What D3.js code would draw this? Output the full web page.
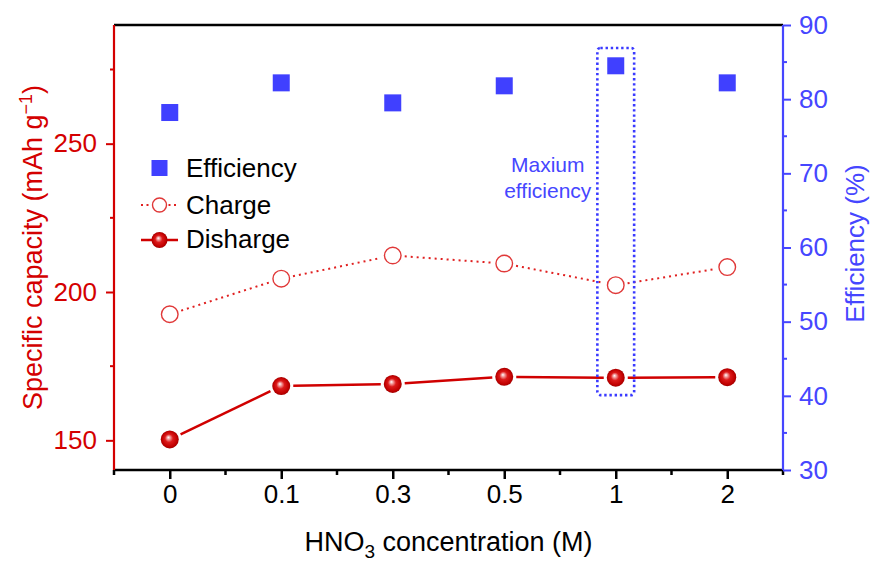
<!DOCTYPE html>
<html>
<head>
<meta charset="utf-8">
<script src="https://cdn.jsdelivr.net/npm/d3@7/dist/d3.min.js"></script>
<style>
  html, body { margin: 0; padding: 0; background: #fff; }
  svg { display: block; font-family: "Liberation Sans", Arial, sans-serif; }
</style>
</head>
<body>
<svg id="chart" width="874" height="561"></svg>
<script>
// HNO3 concentration categories (M)
const categories = ["0", "0.1", "0.3", "0.5", "1", "2"];
// Specific capacity, mAh g^-1
const chargeCapacity = [192.5, 204.5, 212.3, 209.6, 202.3, 208.4];
const dischargeCapacity = [150.3, 168.3, 169.0, 171.4, 171.1, 171.3];
// Coulombic efficiency, %
const efficiency = [78.2, 82.2, 79.5, 81.8, 84.5, 82.2];
// Axis ticks
const capacityTicks = [150, 200, 250];
const capacityMinor = [175, 225, 275];
const effTicks = [30, 40, 50, 60, 70, 80, 90];
const effMinor = [35, 45, 55, 65, 75, 85];
// Highlighted sample (maximum efficiency)
const highlightIndex = 4;
const highlightEffRange = [40.1, 86.9];

const RED = "#d40000";
const BLUE = "#4646ff";
const FONT = 26;
const TITLE_FONT = 27;

const svg = d3.select("#chart");
const m = { left: 114, right: 783, top: 25, bottom: 470 };

const x = d3.scaleLinear().domain([-0.5, categories.length - 0.5]).range([m.left, m.right]);
const yCap = d3.scaleLinear().domain([140, 290]).range([m.bottom, m.top]);
const yEff = d3.scaleLinear().domain([30, 90]).range([m.bottom, m.top]);

// sphere gradient for discharge markers
const defs = svg.append("defs");
const grad = defs.append("radialGradient").attr("id", "sphere")
  .attr("cx", "0.5").attr("cy", "0.5").attr("r", "0.5")
  .attr("fx", "0.42").attr("fy", "0.38");
grad.append("stop").attr("offset", "0").attr("stop-color", "#ffffff");
grad.append("stop").attr("offset", "0.18").attr("stop-color", "#f3a0a0");
grad.append("stop").attr("offset", "0.45").attr("stop-color", "#dc1a1a");
grad.append("stop").attr("offset", "0.85").attr("stop-color", "#c00000");
grad.append("stop").attr("offset", "1").attr("stop-color", "#a00000");

// ---- axes ----
// bottom (categorical index axis)
const xAxis = d3.axisBottom(x)
  .tickValues(d3.range(categories.length))
  .tickFormat(i => categories[i])
  .tickSize(9).tickPadding(6);
const gx = svg.append("g").attr("transform", `translate(0,${m.bottom})`).call(xAxis);
gx.select(".domain").remove();
gx.selectAll(".tick line").attr("stroke", "#000").attr("stroke-width", 2.5);
gx.selectAll(".tick text").attr("font-size", FONT).attr("fill", "#000").attr("dy", "0.71em")
  .attr("font-family", "Liberation Sans, Arial, sans-serif");
svg.append("g").selectAll("line")
  .data(d3.range(-0.5, categories.length, 1))
  .join("line")
  .attr("x1", d => x(d)).attr("x2", d => x(d))
  .attr("y1", m.bottom).attr("y2", m.bottom + 5)
  .attr("stroke", "#000").attr("stroke-width", 2.5);

// left capacity axis
const yAxisL = d3.axisLeft(yCap).tickValues(capacityTicks).tickSize(8).tickPadding(9);
const gl = svg.append("g").attr("transform", `translate(${m.left},0)`).call(yAxisL);
gl.select(".domain").remove();
gl.selectAll(".tick line").attr("stroke", RED).attr("stroke-width", 2);
gl.selectAll(".tick text").attr("font-size", FONT).attr("fill", RED)
  .attr("font-family", "Liberation Sans, Arial, sans-serif");
svg.append("g").selectAll("line").data(capacityMinor).join("line")
  .attr("x1", m.left - 4).attr("x2", m.left)
  .attr("y1", d => yCap(d)).attr("y2", d => yCap(d))
  .attr("stroke", RED).attr("stroke-width", 2);

// right efficiency axis
const yAxisR = d3.axisRight(yEff).tickValues(effTicks).tickSize(8).tickPadding(8);
const gr = svg.append("g").attr("transform", `translate(${m.right},0)`).call(yAxisR);
gr.select(".domain").remove();
gr.selectAll(".tick line").attr("stroke", BLUE).attr("stroke-width", 2);
gr.selectAll(".tick text").attr("font-size", FONT).attr("fill", BLUE)
  .attr("font-family", "Liberation Sans, Arial, sans-serif");
svg.append("g").selectAll("line").data(effMinor).join("line")
  .attr("x1", m.right).attr("x2", m.right + 4)
  .attr("y1", d => yEff(d)).attr("y2", d => yEff(d))
  .attr("stroke", BLUE).attr("stroke-width", 2);

// frame
svg.append("line").attr("x1", m.left).attr("x2", m.right).attr("y1", m.top).attr("y2", m.top)
  .attr("stroke", "#000").attr("stroke-width", 2.5);
svg.append("line").attr("x1", m.left).attr("x2", m.right).attr("y1", m.bottom).attr("y2", m.bottom)
  .attr("stroke", "#000").attr("stroke-width", 2.5);
svg.append("line").attr("x1", m.left).attr("x2", m.left).attr("y1", m.top).attr("y2", m.bottom)
  .attr("stroke", RED).attr("stroke-width", 2.2);
svg.append("line").attr("x1", m.right).attr("x2", m.right).attr("y1", m.top).attr("y2", m.bottom)
  .attr("stroke", BLUE).attr("stroke-width", 2.2);

// axis titles
svg.append("text")
  .attr("transform", `translate(42,${(m.top + m.bottom) / 2}) rotate(-90)`)
  .attr("text-anchor", "middle").attr("font-size", TITLE_FONT).attr("fill", RED)
  .html('Specific capacity (mAh g<tspan dy="-10" font-size="18">\u22121</tspan><tspan dy="10">)</tspan>');
svg.append("text")
  .attr("transform", `translate(864,${(m.top + m.bottom) / 2 - 4}) rotate(-90)`)
  .attr("text-anchor", "middle").attr("font-size", FONT).attr("fill", BLUE)
  .text("Efficiency (%)");
svg.append("text")
  .attr("x", (m.left + m.right) / 2).attr("y", 551)
  .attr("text-anchor", "middle").attr("font-size", TITLE_FONT).attr("fill", "#000")
  .html('HNO<tspan dy="7" font-size="19">3</tspan><tspan dy="-7"> concentration (M)</tspan>');

// ---- series ----
// line segments that stop short of each marker
function gappedSegments(values, scale, gap) {
  const segs = [];
  for (let i = 0; i < values.length - 1; i++) {
    const x1 = x(i), y1 = scale(values[i]), x2 = x(i + 1), y2 = scale(values[i + 1]);
    const len = Math.hypot(x2 - x1, y2 - y1);
    const ux = (x2 - x1) / len, uy = (y2 - y1) / len;
    segs.push([x1 + ux * gap, y1 + uy * gap, x2 - ux * gap, y2 - uy * gap]);
  }
  return segs;
}

// charge: dotted line, open circles
svg.append("g").selectAll("line").data(gappedSegments(chargeCapacity, yCap, 12)).join("line")
  .attr("x1", d => d[0]).attr("y1", d => d[1]).attr("x2", d => d[2]).attr("y2", d => d[3])
  .attr("stroke", "#e02020").attr("stroke-width", 2).attr("stroke-dasharray", "2,4");
svg.append("g").selectAll("circle").data(chargeCapacity).join("circle")
  .attr("cx", (d, i) => x(i)).attr("cy", d => yCap(d)).attr("r", 8.3)
  .attr("fill", "#fff").attr("stroke", "#e03838").attr("stroke-width", 1.4);

// discharge: solid line, shaded spheres
svg.append("g").selectAll("line").data(gappedSegments(dischargeCapacity, yCap, 12)).join("line")
  .attr("x1", d => d[0]).attr("y1", d => d[1]).attr("x2", d => d[2]).attr("y2", d => d[3])
  .attr("stroke", "#d00000").attr("stroke-width", 2.5);
svg.append("g").selectAll("circle").data(dischargeCapacity).join("circle")
  .attr("cx", (d, i) => x(i)).attr("cy", d => yCap(d)).attr("r", 9)
  .attr("fill", "url(#sphere)");

// efficiency squares
const SQ = 17;
svg.append("g").selectAll("rect").data(efficiency).join("rect")
  .attr("x", (d, i) => x(i) - SQ / 2).attr("y", d => yEff(d) - SQ / 2)
  .attr("width", SQ).attr("height", SQ).attr("fill", "#4040ff");

// highlight box around the maximum-efficiency sample
svg.append("rect")
  .attr("x", x(highlightIndex - 0.165)).attr("y", yEff(highlightEffRange[1]))
  .attr("width", x(highlightIndex + 0.165) - x(highlightIndex - 0.165))
  .attr("height", yEff(highlightEffRange[0]) - yEff(highlightEffRange[1]))
  .attr("rx", 3).attr("fill", "none")
  .attr("stroke", "#3a3aff").attr("stroke-width", 2.6).attr("stroke-dasharray", "2.4,2.8");
const note = svg.append("text").attr("text-anchor", "middle").attr("font-size", 21).attr("fill", BLUE);
note.append("tspan").attr("x", x(highlightIndex) - 68).attr("y", 172).text("Maxium");
note.append("tspan").attr("x", x(highlightIndex) - 68).attr("y", 198).text("efficiency");

// ---- legend ----
const lg = svg.append("g");
const lx = 159.5, tx = 186;
lg.append("rect").attr("x", lx - 8).attr("y", 160).attr("width", 16).attr("height", 16).attr("fill", "#4040ff");
lg.append("text").attr("x", tx).attr("y", 177).attr("font-size", FONT).text("Efficiency");

lg.append("line").attr("x1", 141).attr("x2", 178).attr("y1", 205).attr("y2", 205)
  .attr("stroke", "#e02020").attr("stroke-width", 2).attr("stroke-dasharray", "2,3.5");
lg.append("circle").attr("cx", lx).attr("cy", 205).attr("r", 7).attr("fill", "#fff")
  .attr("stroke", "#e03838").attr("stroke-width", 1.4);
lg.append("text").attr("x", tx).attr("y", 214).attr("font-size", FONT).text("Charge");

lg.append("line").attr("x1", 141).attr("x2", 178).attr("y1", 240).attr("y2", 240)
  .attr("stroke", "#d00000").attr("stroke-width", 2.5);
lg.append("circle").attr("cx", lx).attr("cy", 240).attr("r", 8).attr("fill", "url(#sphere)");
lg.append("text").attr("x", tx).attr("y", 248).attr("font-size", FONT).text("Disharge");
</script>
</body>
</html>
